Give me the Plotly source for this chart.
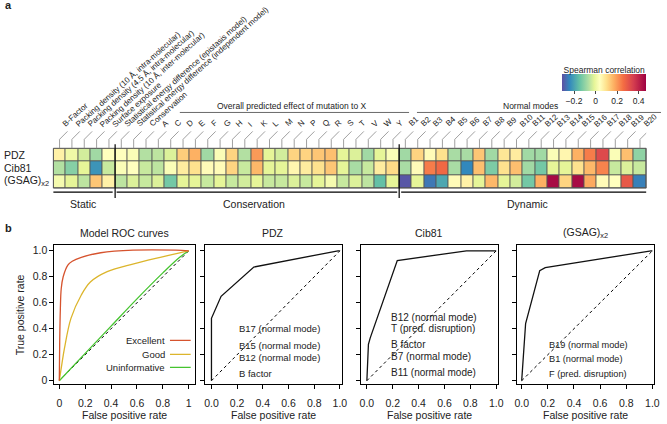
import plotly.graph_objects as go

W, H = 667, 424
FONT = "Liberation Sans, Arial, Helvetica, sans-serif"

# ---------------- data: panel a ----------------
static_labels = ["B-Factor",
                 "Packing density (10 Å, intra-molecular)",
                 "Packing density (4.5 Å, intra-molecular)",
                 "Packing density (10 Å, inter-molecular)",
                 "Surface exposure"]
conservation_labels = ["Statistical energy difference (epistasis model)",
                       "Statistical energy difference (independent model)",
                       "Conservation",
                       "A", "C", "D", "E", "F", "G", "H", "I", "K", "L",
                       "M", "N", "P", "Q", "R", "S", "T", "V", "W", "Y"]
dynamic_labels = ["B1", "B2", "B3", "B4", "B5", "B6", "B7", "B8", "B9", "B10",
                  "B11", "B12", "B13", "B14", "B15", "B16", "B17", "B18", "B19", "B20"]
row_labels = ["PDZ", "Cib81", "(GSAG)<sub>x2</sub>"]

pdz_corr = [0.07, 0.01, -0.03, -0.08, 0.04, 0.04, 0.03, -0.06, -0.05, -0.02, 0.13, 0.17, -0.08, 0.03, 0.12, -0.06,
            0.20, -0.01, -0.03, 0.12, 0.12, 0.14, 0.15, -0.01, -0.02, -0.08, -0.01, 0.03, -0.08, 0.12, 0.05, 0.10,
            -0.07, -0.07, 0.14, -0.08, 0.09, 0.08, -0.08, -0.08, 0.03, 0.06, 0.17, 0.24, 0.33, 0.03, 0.15, -0.10]
cib81_corr = [-0.06, -0.11, -0.01, -0.22, -0.04, 0.03, 0.04, -0.04, -0.05, 0.03, 0.08, 0.10, 0.05, 0.05, 0.12, -0.04,
              0.16, -0.01, -0.01, 0.06, 0.08, 0.10, 0.14, -0.01, -0.07, -0.04, 0.08, 0.11, -0.07, 0.05, 0.24, 0.27,
              -0.07, -0.24, 0.15, -0.12, 0.10, 0.15, -0.08, -0.13, -0.01, -0.01, 0.10, 0.16, 0.23, -0.04, -0.02, -0.04]
gsag_corr = [0.02, -0.01, -0.05, 0.14, 0.07, -0.05, -0.02, -0.04, -0.02, -0.13, -0.01, -0.01, -0.04, -0.01, -0.04, -0.03,
             -0.01, -0.04, -0.04, -0.02, -0.04, -0.01, 0.02, -0.04, -0.02, -0.05, -0.15, -0.01, -0.30, -0.01, -0.26, -0.19,
             0.05, 0.07, -0.01, 0.16, -0.01, -0.03, -0.13, 0.17, 0.45, 0.12, 0.45, 0.18, 0.05, 0.04, 0.30, -0.25]
cbar_ticks = [-0.2, 0, 0.2, 0.4]
cbar_ticktext = ["\u22120.2", "0", "0.2", "0.4"]
zmin, zmax = -0.31, 0.47

# ---------------- data: panel b ----------------
excellent_fpr = [0, 0.003, 0.008, 0.015, 0.03, 0.066, 0.1, 0.17, 0.32, 0.57, 0.9, 1.0]
excellent_tpr = [0, 0.30, 0.55, 0.71, 0.80, 0.89, 0.92, 0.95, 0.985, 1.005, 1.005, 1.0]
good_fpr = [0, 0.02, 0.04, 0.09, 0.17, 0.24, 0.37, 0.575, 0.78, 0.93, 1.0]
good_tpr = [0, 0.13, 0.25, 0.48, 0.66, 0.76, 0.84, 0.90, 0.95, 0.985, 1.0]
uninf_fpr = [0, 0.2, 0.4, 0.6, 0.8, 0.93, 1.0]
uninf_tpr = [0, 0.21, 0.42, 0.63, 0.83, 0.95, 1.0]

pdz_fpr = [0, 0, 0.075, 0.33, 0.985, 1.0]
pdz_tpr = [0, 0.48, 0.65, 0.875, 1.0, 1.0]
cib81_fpr = [0, 0.005, 0.012, 0.026, 0.235, 0.77, 1.0]
cib81_tpr = [0, 0.21, 0.28, 0.33, 0.925, 1.0, 1.0]
gsag_fpr = [0, 0.03, 0.138, 0.18, 0.99, 1.0]
gsag_tpr = [0, 0.44, 0.847, 0.87, 1.0, 1.0]

pdz_notes = ["B17 (normal mode)", "B15 (normal mode)", "B12 (normal mode)", "B factor"]
cib81_notes = ["B12 (normal mode)", "T (pred. disruption)", "B factor", "B7 (normal mode)", "B11 (normal mode)"]
gsag_notes = ["B19 (normal mode)", "B1 (normal mode)", "F (pred. disruption)"]

roc_ticks = [0, 0.2, 0.4, 0.6, 0.8, 1.0]

# ---------------- helpers ----------------
def px(x):
    return x / W

def py(y):
    return 1 - y / H

def txt_ann(x, y, text, size=10.5, xanchor="center", yanchor="middle", **kw):
    d = dict(x=x, y=y, xref="paper", yref="paper", text=text, showarrow=False,
             xanchor=xanchor, yanchor=yanchor,
             font=dict(size=size, color="#222", family=FONT))
    d.update(kw)
    return d

col_labels = static_labels + conservation_labels + dynamic_labels
ncol = len(col_labels)
cols = list(range(ncol))

colorscale = [
    [0.00, "rgb(94,79,162)"],
    [0.09, "rgb(50,136,189)"],
    [0.21, "rgb(102,194,165)"],
    [0.31, "rgb(171,221,164)"],
    [0.385, "rgb(230,245,152)"],
    [0.45, "rgb(255,255,191)"],
    [0.53, "rgb(254,224,139)"],
    [0.62, "rgb(253,174,97)"],
    [0.73, "rgb(244,109,67)"],
    [0.85, "rgb(213,62,79)"],
    [1.00, "rgb(158,1,66)"],
]

fig = go.Figure()

fig.add_trace(go.Heatmap(
    z=[pdz_corr, cib81_corr, gsag_corr], x=cols, y=[0, 1, 2],
    colorscale=colorscale, zmin=zmin, zmax=zmax, xgap=1, ygap=1,
    xaxis="x", yaxis="y", hoverinfo="skip",
    colorbar=dict(orientation="h", x=px(567), xanchor="left",
                  y=py(64), yanchor="top", len=84, lenmode="pixels",
                  thickness=17, thicknessmode="pixels",
                  tickvals=cbar_ticks, ticktext=cbar_ticktext,
                  ticks="outside", ticklen=3, tickcolor="#444",
                  tickfont=dict(size=8.5, color="#222", family=FONT),
                  title=dict(text="Spearman correlation", side="top",
                             font=dict(size=8.5, color="#222", family=FONT)),
                  outlinewidth=0, xpad=0, ypad=0),
))

# ROC panels
line_col = "#111"
fig.add_trace(go.Scatter(x=[0, 1], y=[0, 1], mode="lines", xaxis="x2", yaxis="y2",
                         line=dict(color="black", width=1, dash="3px,3px"), showlegend=False))
fig.add_trace(go.Scatter(x=uninf_fpr, y=uninf_tpr, mode="lines", xaxis="x2", yaxis="y2",
                         line=dict(color="#45c42f", width=1.3, shape="spline"), showlegend=False))
fig.add_trace(go.Scatter(x=good_fpr, y=good_tpr, mode="lines", xaxis="x2", yaxis="y2",
                         line=dict(color="#dcb52c", width=1.3, shape="spline"), showlegend=False))
fig.add_trace(go.Scatter(x=excellent_fpr, y=excellent_tpr, mode="lines", xaxis="x2", yaxis="y2",
                         line=dict(color="#d6532e", width=1.3, shape="spline"), showlegend=False))

for ax, fx, fy in [("3", pdz_fpr, pdz_tpr), ("4", cib81_fpr, cib81_tpr), ("5", gsag_fpr, gsag_tpr)]:
    fig.add_trace(go.Scatter(x=[0, 1], y=[0, 1], mode="lines", xaxis="x" + ax, yaxis="y" + ax,
                             line=dict(color="black", width=1, dash="3px,3px"), showlegend=False))
    fig.add_trace(go.Scatter(x=fx, y=fy, mode="lines", xaxis="x" + ax, yaxis="y" + ax,
                             line=dict(color=line_col, width=1.3), showlegend=False))

axis_common = dict(showline=True, mirror=True, linecolor="black", linewidth=1,
                   ticks="outside", ticklen=4, tickwidth=1, tickcolor="black",
                   showgrid=False, zeroline=False,
                   tickfont=dict(size=10.5, color="#222", family=FONT))

panels = [  # (left px, right px, x at 0, x at 1)
    (53, 195, 58, 189),
    (205, 344, 212, 342),
    (363, 502, 369.3, 500.2),
    (521, 660, 526, 658.3),
]
y_top, y_bot, y1px, y0px = 246, 386, 252, 382.5
yunit = y0px - y1px
yr = [-(y_bot - y0px) / yunit, 1 + (y1px - y_top) / yunit]

layout = dict(
    width=W, height=H, margin=dict(l=0, r=0, t=0, b=0),
    paper_bgcolor="white", plot_bgcolor="white",
    font=dict(family=FONT, color="#222"),
    showlegend=False,
    xaxis=dict(domain=[px(52), px(652)], range=[-0.5, ncol - 0.5], visible=False),
    yaxis=dict(domain=[py(189), py(149)], range=[2.5, -0.5], visible=False),
)
for k, (l, r, x0p, x1p) in enumerate(panels):
    n = str(k + 2)
    unit = x1p - x0p
    xr = [-(x0p - l) / unit, 1 + (r - x1p) / unit]
    xt = ["0", "0.2", "0.4", "0.6", "0.8", "1"] if k == 0 else ["0.0", "0.2", "0.4", "0.6", "0.8", "1.0"]
    layout["xaxis" + n] = dict(domain=[px(l), px(r)], range=xr, anchor="y" + n,
                               tickvals=roc_ticks, ticktext=xt, ticklabelstandoff=5,
                               **axis_common)
    layout["yaxis" + n] = dict(domain=[py(y_bot), py(y_top)], range=yr, anchor="x" + n,
                               tickvals=roc_ticks,
                               ticktext=["0", "0.2", "0.4", "0.6", "0.8", "1.0"],
                               showticklabels=(k == 0), **axis_common)
fig.update_layout(**layout)

shapes = []
ann = []

# heatmap grid background + border
shapes.append(dict(type="rect", xref="x domain", yref="y domain", x0=0, x1=1, y0=0, y1=1,
                   fillcolor="#555", line=dict(width=0), layer="below"))
shapes.append(dict(type="rect", xref="x domain", yref="y domain", x0=0, x1=1, y0=0, y1=1,
                   line=dict(color="#555", width=1)))

# leader lines and column labels
dx = 8 / 12.5
for i, lab in enumerate(col_labels):
    shapes.append(dict(type="path", xref="x", yref="paper",
                       path=f"M {i},{py(149)} L {i},{py(140)} L {i + dx},{py(132)}",
                       line=dict(color="#888", width=0.8)))
    ann.append(dict(x=i - 0.1, y=py(132), xref="x", yref="paper", text=lab, showarrow=False,
                    xanchor="left", yanchor="bottom", textangle=-42,
                    font=dict(size=8, color="#222", family=FONT)))

# group separators
n_static = len(static_labels)
n_cons = len(conservation_labels)
for sep in [n_static - 0.5, n_static + n_cons - 0.5]:
    shapes.append(dict(type="line", xref="x", yref="paper", x0=sep, x1=sep,
                       y0=py(145), y1=py(199), line=dict(color="black", width=1.2)))
# bottom group lines
for a, b in [(52, 112), (116, 400), (404, 652)]:
    shapes.append(dict(type="line", xref="paper", yref="paper", x0=px(a), x1=px(b),
                       y0=py(193), y1=py(193), line=dict(color="black", width=1.2)))
# top bracket lines
for a, b in [(180, 412), (420, 667)]:
    shapes.append(dict(type="line", xref="paper", yref="paper", x0=px(a), x1=px(b),
                       y0=py(113), y1=py(113), line=dict(color="#444", width=0.8)))
ann.append(txt_ann(px(293), py(106), "Overall predicted effect of mutation to X", size=8.5))
ann.append(txt_ann(px(535), py(106), "Normal modes", size=8.5))

for t, cx in [("Static", 82), ("Conservation", 255), ("Dynamic", 532)]:
    ann.append(txt_ann(px(cx), py(205), t))

# row labels
for r, lab in enumerate(row_labels):
    ann.append(txt_ann(0, py(155.7 + 13.3 * r), lab, xanchor="left"))

# panel letters
ann.append(txt_ann(px(1), py(5), "<b>a</b>", size=11, xanchor="left"))
ann.append(txt_ann(px(1), py(229), "<b>b</b>", size=11, xanchor="left"))

# panel titles and x labels
titles = ["Model ROC curves", "PDZ", "Cib81", "(GSAG)<sub>x2</sub>"]
for (l, r, _, _), t in zip(panels, titles):
    ann.append(txt_ann(px((l + r) / 2), py(234), t))
    ann.append(txt_ann(px((l + r) / 2), py(417), "False positive rate"))
ann.append(txt_ann(px(18), py(316), "True positive rate", textangle=-90))

# legend in model panel
legend_items = [("Excellent", "#d6532e", 0.31), ("Good", "#dcb52c", 0.203), ("Uninformative", "#45c42f", 0.103)]
for name, c, yy in legend_items:
    ann.append(dict(x=0.83, y=yy, xref="x2", yref="y2", showarrow=False, xanchor="right",
                    yanchor="middle", text=name, font=dict(size=9.5, color="#222", family=FONT)))
    shapes.append(dict(type="line", xref="x2", yref="y2", x0=0.855, x1=1.015, y0=yy, y1=yy,
                       line=dict(color=c, width=1.2)))

# notes in the three data panels
for ax, notes, x0, ys, fs in [("3", pdz_notes, 0.2, [0.40, 0.27, 0.175, 0.056], 9.5),
                              ("4", cib81_notes, 0.17, [0.485, 0.405, 0.277, 0.183, 0.061], 10),
                              ("5", gsag_notes, 0.194, [0.278, 0.17, 0.048], 9.2)]:
    for t, yy in zip(notes, ys):
        ann.append(dict(x=x0, y=yy, xref="x" + ax, yref="y" + ax, showarrow=False, xanchor="left",
                        yanchor="middle", text=t, font=dict(size=fs, color="#222", family=FONT)))

fig.update_layout(shapes=shapes, annotations=ann)
fig.write_html("out.html", config={"displayModeBar": False},
               post_script="document.body.style.margin='0';document.body.style.overflow='hidden';")
